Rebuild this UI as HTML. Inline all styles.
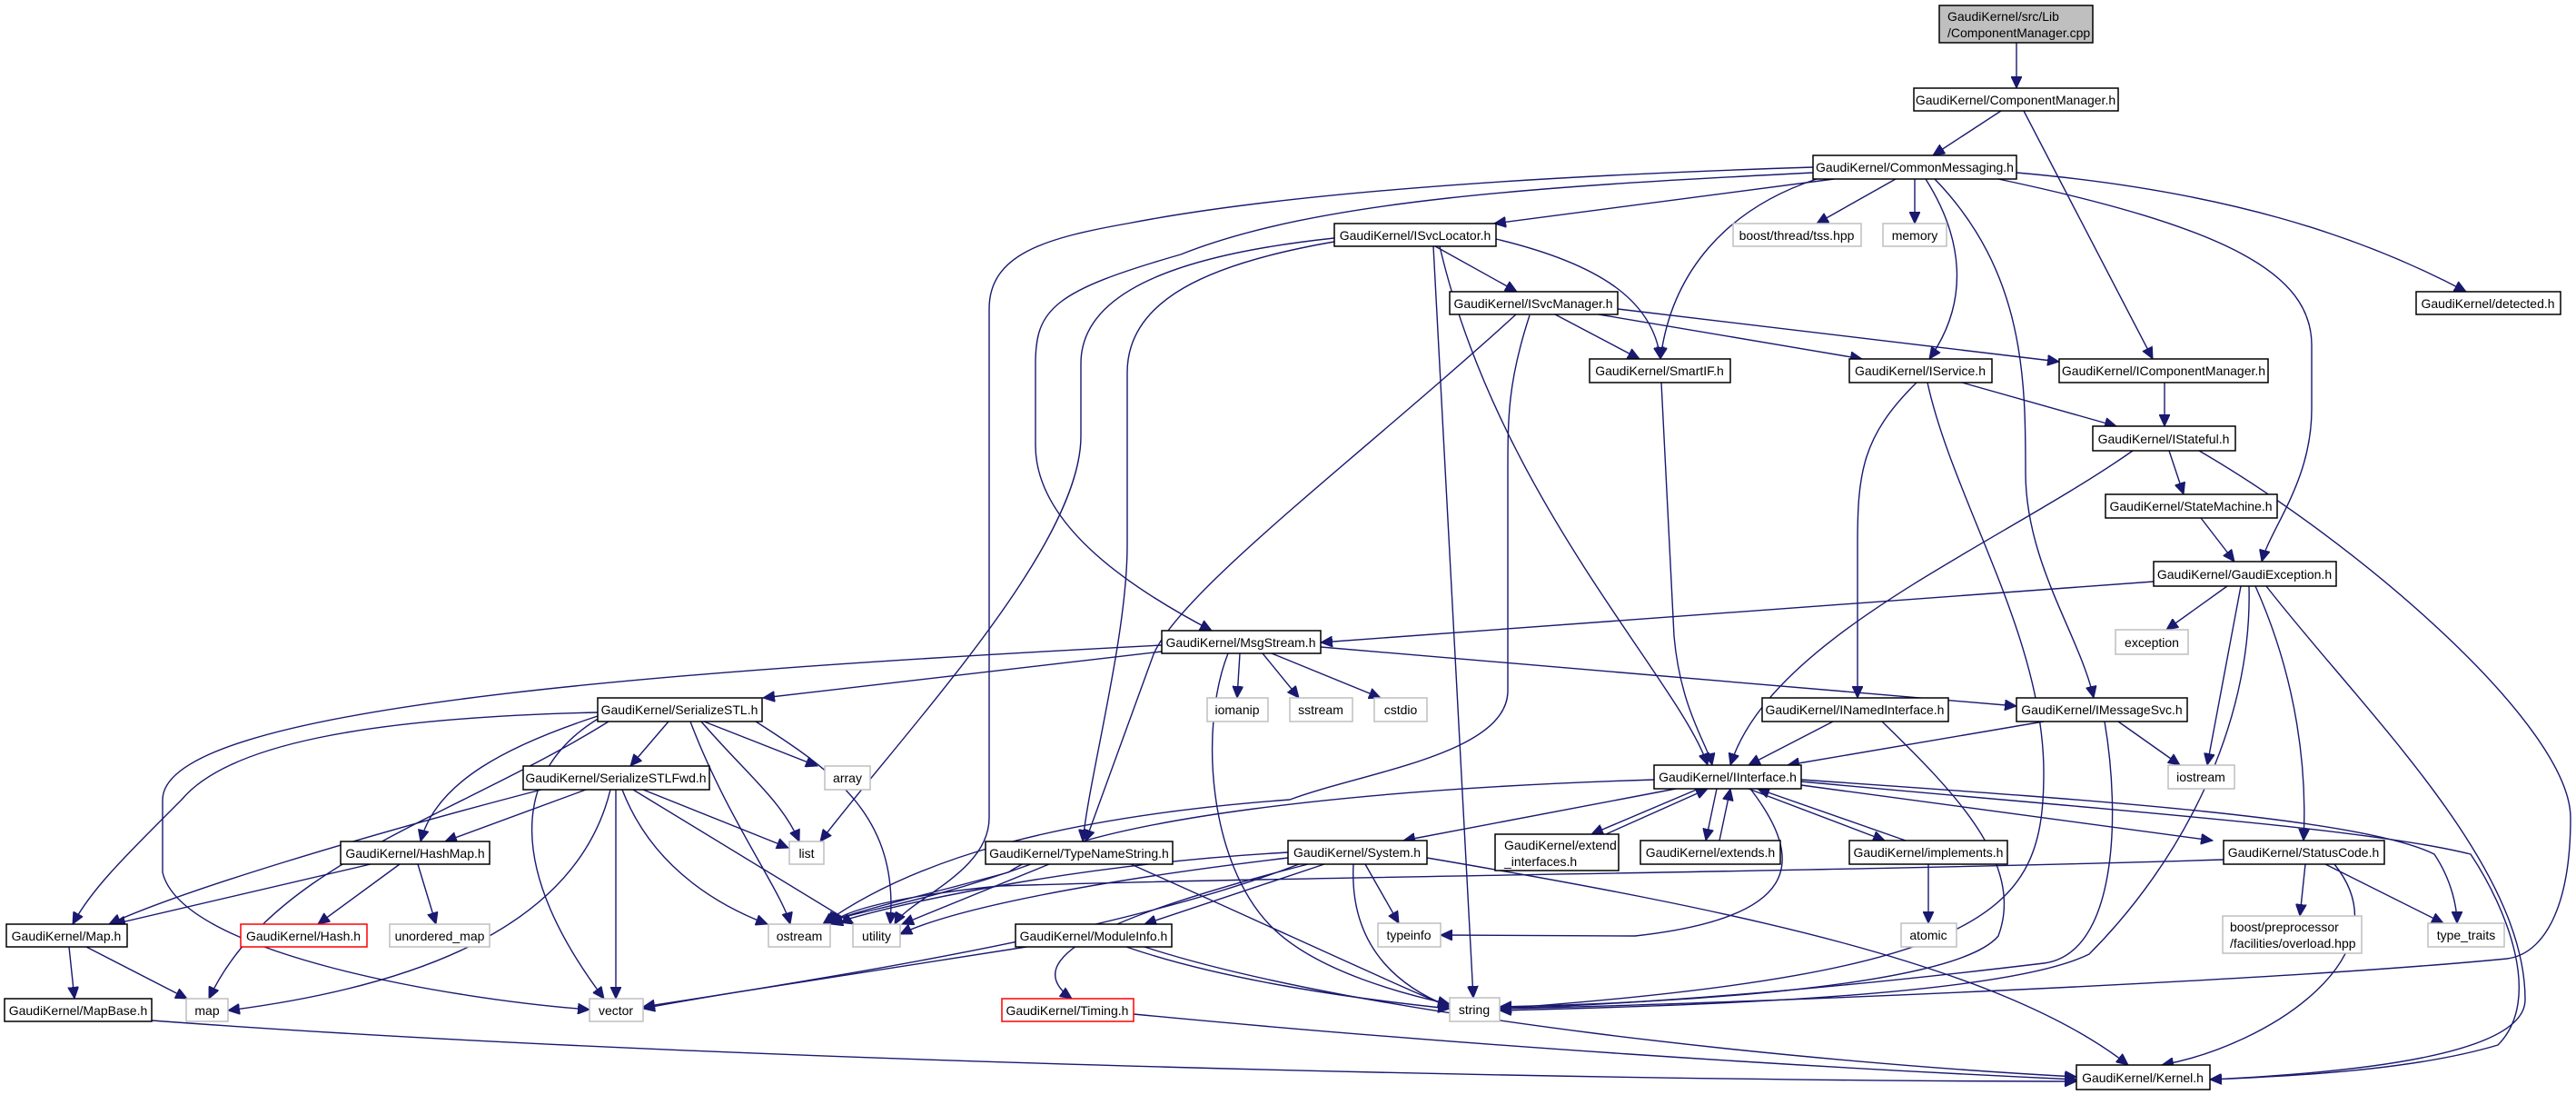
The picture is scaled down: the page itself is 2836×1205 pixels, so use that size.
<!DOCTYPE html>
<html><head><meta charset="utf-8"><style>
html,body{margin:0;padding:0;background:#fff;}
svg{display:block;}
text{font-family:"Liberation Sans",sans-serif;font-size:14px;fill:#000;}
</style></head><body>
<svg width="2836" height="1205" viewBox="0 0 2836 1205" xmlns="http://www.w3.org/2000/svg">
<defs>
<marker id="a" markerUnits="userSpaceOnUse" markerWidth="14" markerHeight="12" refX="13" refY="6" orient="auto">
<path d="M0,0 L13,6 L0,12 z" fill="#191970" stroke="#191970"/>
</marker>
</defs>
<g fill="none" stroke="#191970" stroke-width="1.4" marker-end="url(#a)">
<path d="M2220,47 L2220,97"/>
<path d="M2203,122 L2128,171"/>
<path d="M2228,122 L2370,395"/>
<path d="M2019,197 L1645,246"/>
<path d="M2087,197 L2000,246"/>
<path d="M2108,197 L2108,246"/>
<path d="M2000,197 C1900,230 1840,300 1828,395"/>
<path d="M2120,197 C2160,260 2170,330 2124,395"/>
<path d="M2130,197 C2230,300 2230,420 2230,520 C2230,620 2290,700 2305,768"/>
<path d="M2200,197 C2450,250 2545,300 2545,380 L2545,450 C2545,530 2500,580 2490,618"/>
<path d="M2220,190 C2450,210 2600,260 2715,321"/>
<path d="M1996,190 C1700,205 1450,220 1300,280 C1160,320 1140,340 1140,400 L1140,490 C1140,580 1250,650 1334,694"/>
<path d="M1996,184 C1650,195 1400,215 1241,246 C1150,262 1089,280 1089,340 L1089,900 C1089,960 1000,990 985,1017"/>
<path d="M1469,262 C1300,280 1190,320 1190,400 L1190,480 C1190,600 1000,800 903,926"/>
<path d="M1469,266 C1330,290 1241,330 1241,410 L1241,600 C1241,700 1200,850 1192,926"/>
<path d="M1578,271 L1622,1098"/>
<path d="M1585,271 C1650,550 1850,750 1880,842"/>
<path d="M1647,263 C1760,290 1820,330 1828,395"/>
<path d="M1580,271 L1670,321"/>
<path d="M1712,346 L1805,395"/>
<path d="M1760,346 L2050,395"/>
<path d="M1781,340 L2267,398"/>
<path d="M1669,346 C1500,500 1300,650 1270,720 L1195,926"/>
<path d="M1684,347 C1660,420 1660,460 1660,520 L1660,760 C1660,830 1500,850 1420,880 C1150,900 1000,950 906,1017"/>
<path d="M1829,421 L1843,700 C1850,780 1880,820 1885,842"/>
<path d="M2160,421 L2330,469"/>
<path d="M2110,421 C2050,480 2045,520 2045,600 L2045,768"/>
<path d="M2122,421 C2150,550 2250,700 2250,850 C2250,1000 2200,1070 1651,1110"/>
<path d="M2383,421 L2383,469"/>
<path d="M2388,496 L2404,544"/>
<path d="M2348,496 C2200,600 1950,700 1905,842"/>
<path d="M2421,496 C2600,600 2830,800 2830,900 C2830,1000 2800,1050 2760,1055 C2500,1080 1900,1105 1651,1110"/>
<path d="M2423,570 L2460,618"/>
<path d="M2371,640 L1454,707"/>
<path d="M2452,645 L2385,693"/>
<path d="M2467,645 L2430,842"/>
<path d="M2476,645 C2480,800 2400,950 2300,1050 C2200,1100 1800,1108 1651,1112"/>
<path d="M2483,645 C2530,750 2540,850 2536,925"/>
<path d="M2495,645 C2600,780 2780,950 2780,1100 C2780,1160 2600,1180 2433,1188"/>
<path d="M1279,710 C700,740 180,780 179,880 L179,960 C200,1050 500,1100 649,1111"/>
<path d="M1279,717 L840,768"/>
<path d="M1365,719 L1362,768"/>
<path d="M1390,719 L1430,768"/>
<path d="M1400,719 L1520,768"/>
<path d="M1352,719 C1320,800 1330,950 1400,1020 C1450,1070 1550,1095 1596,1105"/>
<path d="M1454,712 L2220,777"/>
<path d="M2018,794 L1925,842"/>
<path d="M2072,794 C2150,870 2230,950 2200,1030 C2150,1090 1800,1105 1651,1108"/>
<path d="M2250,794 L1968,842"/>
<path d="M2332,794 L2400,842"/>
<path d="M2317,794 C2335,900 2330,1050 2250,1060 C2000,1090 1800,1105 1651,1110"/>
<path d="M1821,858 C1500,868 1200,900 1110,960 C1000,990 930,1005 910,1017"/>
<path d="M1845,868 L1545,925"/>
<path d="M1870,868 L1752,918"/>
<path d="M1768,918 L1880,868"/>
<path d="M1890,868 L1878,925"/>
<path d="M1893,925 L1905,868"/>
<path d="M1925,868 L2075,925"/>
<path d="M2098,925 L1935,868"/>
<path d="M2123,951 L2123,1016"/>
<path d="M1927,868 C1990,950 1980,1010 1800,1030 L1586,1029"/>
<path d="M1983,864 L2436,925"/>
<path d="M1983,858 C2300,880 2600,900 2680,940 C2700,970 2705,1000 2705,1016"/>
<path d="M1983,860 C2300,890 2600,910 2720,940 C2760,1000 2800,1100 2750,1150 C2650,1180 2500,1185 2433,1188"/>
<path d="M1503,951 L1540,1016"/>
<path d="M1490,951 C1485,1050 1550,1090 1596,1108"/>
<path d="M1571,944 C1900,1000 2200,1060 2343,1172"/>
<path d="M1458,951 L1260,1017"/>
<path d="M1440,951 C1250,1000 1110,1050 1180,1099"/>
<path d="M1430,951 C1200,1040 800,1090 708,1110"/>
<path d="M1418,938 C1200,950 1000,990 915,1017"/>
<path d="M1418,944 C1200,970 1050,1000 991,1028"/>
<path d="M2448,946 C2000,960 1400,965 1100,975 C1000,985 930,1000 914,1017"/>
<path d="M2538,951 L2532,1008"/>
<path d="M2560,951 L2690,1016"/>
<path d="M2570,951 C2650,1050 2500,1150 2380,1172"/>
<path d="M1245,951 C1400,1020 1550,1090 1596,1108"/>
<path d="M1135,951 C1000,1000 920,1005 914,1017"/>
<path d="M1155,951 L993,1017"/>
<path d="M1130,1042 L708,1108"/>
<path d="M1240,1042 C1350,1080 1500,1100 1596,1110"/>
<path d="M1260,1042 C1500,1120 2000,1170 2286,1185"/>
<path d="M1248,1116 C1600,1150 2000,1175 2286,1188"/>
<path d="M736,794 L694,843"/>
<path d="M658,788 C560,820 480,860 463,926"/>
<path d="M658,784 C400,790 250,820 200,880 C130,950 100,980 80,1017"/>
<path d="M775,794 L900,843"/>
<path d="M772,794 C820,850 860,880 880,926"/>
<path d="M760,794 C800,900 860,980 870,1017"/>
<path d="M832,794 C920,850 990,900 980,1017"/>
<path d="M660,790 C560,850 560,960 665,1099"/>
<path d="M670,794 C500,900 300,950 230,1099"/>
<path d="M645,869 L490,926"/>
<path d="M596,869 C400,920 200,980 120,1017"/>
<path d="M708,869 L868,933"/>
<path d="M685,869 C720,960 800,1000 845,1017"/>
<path d="M697,869 L940,1017"/>
<path d="M678,869 L678,1099"/>
<path d="M672,869 C640,1000 500,1080 251,1112"/>
<path d="M408,951 L125,1017"/>
<path d="M440,951 L350,1017"/>
<path d="M460,951 L480,1017"/>
<path d="M76,1042 L82,1099"/>
<path d="M95,1042 L206,1099"/>
<path d="M167,1123 C800,1170 1800,1190 2286,1190"/>
</g>
<g stroke-width="1.5">
<rect x="2135" y="6" width="169" height="41" fill="#bfbfbf" stroke="#000"/>
<g fill="#fff" stroke="#000">
<rect x="2107" y="97" width="225" height="25"/>
<rect x="1996" y="171" width="224" height="26"/>
<rect x="1469" y="246" width="178" height="25"/>
<rect x="1596" y="321" width="185" height="25"/>
<rect x="2660" y="321" width="159" height="25"/>
<rect x="1750" y="395" width="155" height="26"/>
<rect x="2036" y="395" width="157" height="26"/>
<rect x="2267" y="395" width="230" height="26"/>
<rect x="2304" y="469" width="157" height="27"/>
<rect x="2318" y="544" width="189" height="26"/>
<rect x="2371" y="618" width="201" height="27"/>
<rect x="1279" y="694" width="175" height="25"/>
<rect x="658" y="768" width="181" height="26"/>
<rect x="1940" y="768" width="205" height="26"/>
<rect x="2220" y="768" width="188" height="26"/>
<rect x="576" y="843" width="205" height="26"/>
<rect x="1821" y="842" width="162" height="26"/>
<rect x="375" y="926" width="164" height="25"/>
<rect x="1085" y="926" width="206" height="25"/>
<rect x="1418" y="925" width="153" height="26"/>
<rect x="1646" y="918" width="136" height="40"/>
<rect x="1806" y="925" width="154" height="26"/>
<rect x="2036" y="925" width="174" height="26"/>
<rect x="2448" y="925" width="177" height="26"/>
<rect x="7" y="1017" width="133" height="25"/>
<rect x="1118" y="1017" width="172" height="25"/>
<rect x="5" y="1099" width="162" height="25"/>
<rect x="2286" y="1172" width="147" height="27"/>
</g>
<g fill="#fff" stroke="#ff0000">
<rect x="265" y="1017" width="139" height="25"/>
<rect x="1103" y="1099" width="145" height="25"/>
</g>
<g fill="#fff" stroke="#bfbfbf">
<rect x="1908" y="246" width="141" height="25"/>
<rect x="2073" y="246" width="70" height="25"/>
<rect x="2329" y="693" width="80" height="27"/>
<rect x="1329" y="768" width="67" height="26"/>
<rect x="1420" y="768" width="69" height="26"/>
<rect x="1513" y="768" width="58" height="26"/>
<rect x="908" y="843" width="50" height="26"/>
<rect x="2387" y="842" width="73" height="26"/>
<rect x="869" y="926" width="38" height="25"/>
<rect x="429" y="1017" width="110" height="25"/>
<rect x="846" y="1017" width="68" height="25"/>
<rect x="939" y="1017" width="52" height="25"/>
<rect x="1517" y="1016" width="69" height="26"/>
<rect x="2093" y="1016" width="61" height="26"/>
<rect x="2447" y="1008" width="153" height="41"/>
<rect x="2673" y="1016" width="84" height="26"/>
<rect x="205" y="1099" width="46" height="25"/>
<rect x="649" y="1099" width="59" height="25"/>
<rect x="1596" y="1098" width="55" height="26"/>
</g>
</g>
<g text-anchor="middle">
<text x="2219" y="115">GaudiKernel/ComponentManager.h</text>
<text x="2108" y="189">GaudiKernel/CommonMessaging.h</text>
<text x="1558" y="264">GaudiKernel/ISvcLocator.h</text>
<text x="1978" y="264">boost/thread/tss.hpp</text>
<text x="2108" y="264">memory</text>
<text x="1688" y="339">GaudiKernel/ISvcManager.h</text>
<text x="2739" y="339">GaudiKernel/detected.h</text>
<text x="1827" y="413">GaudiKernel/SmartIF.h</text>
<text x="2114" y="413">GaudiKernel/IService.h</text>
<text x="2382" y="413">GaudiKernel/IComponentManager.h</text>
<text x="2382" y="488">GaudiKernel/IStateful.h</text>
<text x="2412" y="562">GaudiKernel/StateMachine.h</text>
<text x="2471" y="637">GaudiKernel/GaudiException.h</text>
<text x="1366" y="712">GaudiKernel/MsgStream.h</text>
<text x="2369" y="712">exception</text>
<text x="748" y="786">GaudiKernel/SerializeSTL.h</text>
<text x="1362" y="786">iomanip</text>
<text x="1454" y="786">sstream</text>
<text x="1542" y="786">cstdio</text>
<text x="2042" y="786">GaudiKernel/INamedInterface.h</text>
<text x="2314" y="786">GaudiKernel/IMessageSvc.h</text>
<text x="678" y="861">GaudiKernel/SerializeSTLFwd.h</text>
<text x="933" y="861">array</text>
<text x="1902" y="860">GaudiKernel/IInterface.h</text>
<text x="2423" y="860">iostream</text>
<text x="457" y="944">GaudiKernel/HashMap.h</text>
<text x="888" y="944">list</text>
<text x="1188" y="944">GaudiKernel/TypeNameString.h</text>
<text x="1494" y="943">GaudiKernel/System.h</text>
<text x="1883" y="943">GaudiKernel/extends.h</text>
<text x="2123" y="943">GaudiKernel/implements.h</text>
<text x="2536" y="943">GaudiKernel/StatusCode.h</text>
<text x="73" y="1035">GaudiKernel/Map.h</text>
<text x="334" y="1035">GaudiKernel/Hash.h</text>
<text x="484" y="1035">unordered_map</text>
<text x="880" y="1035">ostream</text>
<text x="965" y="1035">utility</text>
<text x="1204" y="1035">GaudiKernel/ModuleInfo.h</text>
<text x="1551" y="1034">typeinfo</text>
<text x="2123" y="1034">atomic</text>
<text x="2715" y="1034">type_traits</text>
<text x="86" y="1117">GaudiKernel/MapBase.h</text>
<text x="228" y="1117">map</text>
<text x="678" y="1117">vector</text>
<text x="1175" y="1117">GaudiKernel/Timing.h</text>
<text x="1623" y="1116">string</text>
<text x="2359" y="1191">GaudiKernel/Kernel.h</text>
</g>
<text x="2144" y="23">GaudiKernel/src/Lib</text>
<text x="2144" y="41">/ComponentManager.cpp</text>
<text x="1656" y="935">GaudiKernel/extend</text>
<text x="1656" y="953">_interfaces.h</text>
<text x="2455" y="1025">boost/preprocessor</text>
<text x="2455" y="1043">/facilities/overload.hpp</text>
</svg>
</body></html>
